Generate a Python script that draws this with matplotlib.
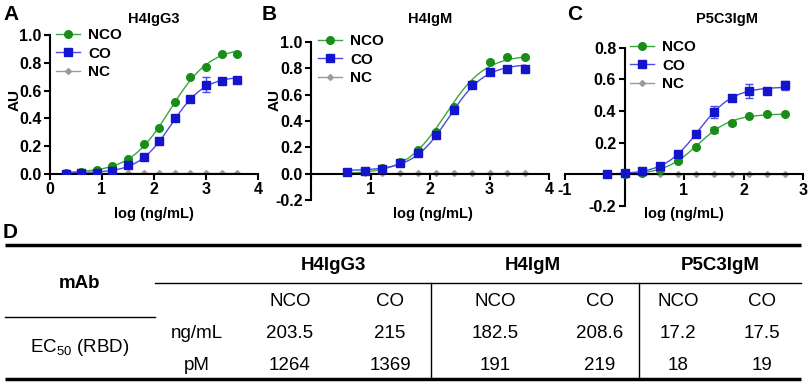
import numpy as np
import matplotlib
matplotlib.use("Agg")
import matplotlib.pyplot as plt

plt.rcParams['font.family'] = ['Liberation Sans', 'DejaVu Sans']
plt.rcParams['mathtext.fontset'] = 'custom'
plt.rcParams['mathtext.rm'] = 'Liberation Sans'

# ---------------- data ----------------
series_names = ["NCO", "CO", "NC"]

# Panel A: H4IgG3
a_x = [0.3, 0.6, 0.9, 1.2, 1.5, 1.8, 2.1, 2.4, 2.7, 3.0, 3.3, 3.6]
a_nco = [0.005, 0.015, 0.026, 0.06, 0.108, 0.213, 0.333, 0.52, 0.70, 0.77, 0.866, 0.864]
a_co = [0.003, 0.005, 0.01, 0.024, 0.062, 0.12, 0.237, 0.404, 0.54, 0.643, 0.667, 0.677]
a_nc = [0.004, 0.004, 0.004, 0.004, 0.004, 0.004, 0.004, 0.004, 0.004, 0.004, 0.004, 0.004]
a_co_err = [0, 0, 0, 0, 0, 0, 0, 0, 0, 0.055, 0, 0]

# Panel B: H4IgM
b_x = [0.6, 0.9, 1.2, 1.5, 1.8, 2.1, 2.4, 2.7, 3.0, 3.3, 3.6]
b_nco = [0.013, 0.023, 0.04, 0.086, 0.18, 0.32, 0.51, 0.68, 0.85, 0.886, 0.884]
b_co = [0.01, 0.018, 0.038, 0.083, 0.16, 0.295, 0.487, 0.677, 0.77, 0.798, 0.798]
b_nc = [0.002, 0.002, 0.002, 0.002, 0.002, 0.002, 0.002, 0.002, 0.002, 0.002, 0.002]

# Panel C: P5C3IgM
c_x = [-0.3, 0.0, 0.3, 0.6, 0.9, 1.2, 1.5, 1.8, 2.1, 2.4, 2.7]
c_nco = [0.002, 0.004, 0.01, 0.03, 0.086, 0.175, 0.28, 0.322, 0.37, 0.379, 0.381]
c_co = [0.002, 0.01, 0.02, 0.05, 0.13, 0.255, 0.394, 0.482, 0.528, 0.528, 0.562]
c_nc = [0.002, 0.002, 0.002, 0.002, 0.002, 0.002, 0.002, 0.002, 0.002, 0.002, 0.002]
c_nco_err = [0, 0, 0, 0, 0, 0, 0.02, 0.012, 0, 0, 0]
c_co_err = [0, 0, 0, 0, 0, 0, 0.038, 0, 0.045, 0, 0.03]

panel_titles = ["H4IgG3", "H4IgM", "P5C3IgM"]

# Table D
table_groups = ["H4IgG3", "H4IgM", "P5C3IgM"]
table_sub = ["NCO", "CO", "NCO", "CO", "NCO", "CO"]
row_ngml = ["203.5", "215", "182.5", "208.6", "17.2", "17.5"]
row_pm = ["1264", "1369", "191", "219", "18", "19"]
ec50_ngml = [203.5, 215, 182.5, 208.6, 17.2, 17.5]

# ---------------- style ----------------
GREEN = "#1a8c1a"
GREEN_L = "#3aa83a"
BLUE = "#1414cc"
BLUE_L = "#4a4ae6"
GREY = "#9a9a9a"
TICK_FS = 11.5
TABLE_FS = 13.5

W, H = 809, 384
fig = plt.figure(figsize=(W / 100, H / 100), dpi=100)


def px_axes(left, right, top, bottom):
    return fig.add_axes([left / W, 1 - bottom / H, (right - left) / W, (bottom - top) / H])


def fit_curve(x, y, logec50):
    """Least-squares 4PL fit (bottom, top linear; hill grid) with EC50 from table."""
    x = np.asarray(x, float)
    y = np.asarray(y, float)
    best = None
    for h in np.arange(0.5, 3.0, 0.01):
        s = 1.0 / (1.0 + 10 ** (h * (logec50 - x)))
        A = np.column_stack([1 - s, s])
        coef, *_ = np.linalg.lstsq(A, y, rcond=None)
        r = np.sum((A @ coef - y) ** 2)
        if best is None or r < best[0]:
            best = (r, h, coef)
    _, h, (bot, top) = best
    xs = np.linspace(x.min(), x.max(), 200)
    s = 1.0 / (1.0 + 10 ** (h * (logec50 - xs)))
    return xs, bot + (top - bot) * s


def draw_panel(ax, x, nco, co, nc, ec_nco, ec_co, nco_err=None, co_err=None):
    xs, ys = fit_curve(x, nco, np.log10(ec_nco))
    ax.plot(xs, ys, color=GREEN_L, lw=1.0, zorder=2)
    xs, ys = fit_curve(x, co, np.log10(ec_co))
    ax.plot(xs, ys, color=BLUE_L, lw=1.0, zorder=2)
    ax.plot(x, nc, color=GREY, lw=1.0, marker="D", ms=3, zorder=2)
    if co_err is not None:
        ax.errorbar(x, co, yerr=co_err, fmt="none", ecolor=BLUE_L, elinewidth=1, capsize=3, zorder=3)
    if nco_err is not None:
        ax.errorbar(x, nco, yerr=nco_err, fmt="none", ecolor=GREEN_L, elinewidth=1, capsize=3, zorder=3)
    ax.plot(x, nco, ls="none", marker="o", ms=5.5, color=GREEN, zorder=4)
    ax.plot(x, co, ls="none", marker="s", ms=5.5, color=BLUE, zorder=4)
    # legend proxies
    h1, = ax.plot([], [], color=GREEN_L, lw=1, marker="o", ms=5.5, mfc=GREEN, mec=GREEN)
    h2, = ax.plot([], [], color=BLUE_L, lw=1, marker="s", ms=5.5, mfc=BLUE, mec=BLUE)
    h3, = ax.plot([], [], color=GREY, lw=1, marker="D", ms=3)
    return [h1, h2, h3]


def style_axes(ax):
    for s in ["top", "right"]:
        ax.spines[s].set_visible(False)
    for s in ["left", "bottom"]:
        ax.spines[s].set_linewidth(1.5)
    ax.tick_params(width=1.5, length=4, labelsize=TICK_FS, pad=2)
    for lab in ax.get_xticklabels() + ax.get_yticklabels():
        lab.set_fontweight("bold")


def add_legend(ax, handles, xpx, ypx):
    leg = ax.legend(handles, series_names, loc="upper left",
                    bbox_to_anchor=(xpx / W, 1 - ypx / H), bbox_transform=fig.transFigure,
                    frameon=False, handlelength=1.6, handletextpad=0.5, labelspacing=0.3,
                    borderpad=0, borderaxespad=0, prop={"weight": "bold", "size": 11})
    return leg


# ---------- Panel A ----------
axA = px_axes(50, 258, 35, 174)
hA = draw_panel(axA, a_x, a_nco, a_co, a_nc, ec50_ngml[0], ec50_ngml[1], co_err=a_co_err)
axA.set_xlim(0, 4)
axA.set_ylim(0, 1.0)
axA.set_xticks([0, 1, 2, 3, 4])
axA.set_yticks([0, 0.2, 0.4, 0.6, 0.8, 1.0])
axA.set_yticklabels(["0.0", "0.2", "0.4", "0.6", "0.8", "1.0"])
style_axes(axA)
add_legend(axA, hA, 56, 28)

# ---------- Panel B ----------
axB = px_axes(311, 549, 42, 200)
hB = draw_panel(axB, b_x, b_nco, b_co, b_nc, ec50_ngml[2], ec50_ngml[3])
axB.set_xlim(0, 4)
axB.set_ylim(-0.2, 1.0)
axB.spines["bottom"].set_position(("data", 0))
axB.set_xticks([0, 1, 2, 3, 4])
axB.set_xticklabels(["", "1", "2", "3", "4"])
axB.set_yticks([-0.2, 0, 0.2, 0.4, 0.6, 0.8, 1.0])
axB.set_yticklabels(["-0.2", "0.0", "0.2", "0.4", "0.6", "0.8", "1.0"])
style_axes(axB)
add_legend(axB, hB, 318, 34)

# ---------- Panel C ----------
axC = px_axes(565, 803, 47.7, 206)
hC = draw_panel(axC, c_x, c_nco, c_co, c_nc, ec50_ngml[4], ec50_ngml[5],
                nco_err=c_nco_err, co_err=c_co_err)
axC.set_xlim(-1, 3)
axC.set_ylim(-0.2, 0.8)
axC.spines["bottom"].set_position(("data", 0))
axC.spines["left"].set_position(("data", 0))
axC.set_xticks([-1, 0, 1, 2, 3])
axC.set_xticklabels(["-1", "", "1", "2", "3"])
axC.set_yticks([-0.2, 0, 0.2, 0.4, 0.6, 0.8])
axC.set_yticklabels(["-0.2", "", "0.2", "0.4", "0.6", "0.8"])
style_axes(axC)
add_legend(axC, hC, 630, 40)

# ---------- overlay for text & table ----------
ov = fig.add_axes([0, 0, 1, 1], zorder=-1)
ov.set_xlim(0, W)
ov.set_ylim(H, 0)
ov.axis("off")

for lbl, x, y in [("A", 3, 14), ("B", 262, 14), ("C", 567, 14), ("D", 3, 233)]:
    ov.text(x, y, lbl, fontsize=15, fontweight="bold", ha="left", va="center")

for t, x in zip(panel_titles, [154, 430, 727]):
    ov.text(x, 19, t, fontsize=10.5, fontweight="bold", ha="center", va="center")

for x in [15, 275, 579]:
    ov.text(x, 100, "AU", fontsize=11, fontweight="bold", rotation=90, ha="center", va="center")

for x in [154, 433, 684]:
    ov.text(x, 214, "log (ng/mL)", fontsize=10.5, fontweight="bold", ha="center", va="center")

# table lines
ov.plot([5, 801], [245, 245], color="black", lw=2.5, solid_capstyle="butt")
ov.plot([5, 801], [379, 379], color="black", lw=2.5, solid_capstyle="butt")
ov.plot([155, 801], [283, 283], color="black", lw=1.0)
ov.plot([5, 155], [317, 317], color="black", lw=1.0)
ov.plot([431, 431], [283, 379], color="black", lw=1.0)
ov.plot([639, 639], [283, 379], color="black", lw=1.0)

ov.text(80, 283, "mAb", fontsize=TABLE_FS, fontweight="bold", ha="center", va="center")
for t, x in zip(table_groups, [333, 533, 720]):
    ov.text(x, 266, t, fontsize=TABLE_FS, fontweight="bold", ha="center", va="center")

col_x = [290, 390, 495, 600, 678, 762]
for t, x in zip(table_sub, col_x):
    ov.text(x, 302, t, fontsize=TABLE_FS, ha="center", va="center")
ov.text(197, 333, "ng/mL", fontsize=TABLE_FS, ha="center", va="center")
ov.text(197, 366, "pM", fontsize=TABLE_FS, ha="center", va="center")
for t, x in zip(row_ngml, col_x):
    ov.text(x, 333, t, fontsize=TABLE_FS, ha="center", va="center")
for t, x in zip(row_pm, col_x):
    ov.text(x, 366, t, fontsize=TABLE_FS, ha="center", va="center")
ov.text(80, 348, "EC$_{50}$ (RBD)", fontsize=TABLE_FS, ha="center", va="center")

fig.savefig("out.png", dpi=100)
